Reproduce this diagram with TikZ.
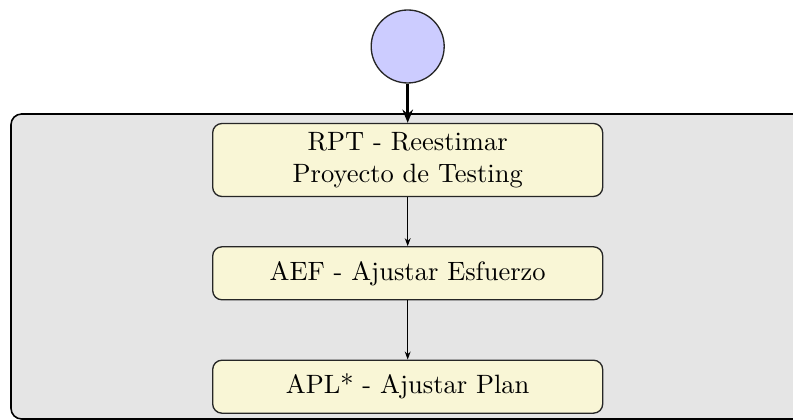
\documentclass[tikz,border=0pt]{standalone}
\usetikzlibrary{arrows.meta}
\definecolor{boxfill}{RGB}{249,246,214}
\definecolor{lanefill}{RGB}{229,229,229}
\definecolor{startfill}{RGB}{204,204,255}
\begin{document}
\begin{tikzpicture}[x=0.3774pt,y=-0.3774pt,
  stepbox/.style={draw=black!85, line width=0.5pt, fill=boxfill, rounded corners=3.5pt,
    minimum width=390*0.3774pt, align=center, font=\normalsize, inner sep=0pt},
  thinarrow/.style={-{Stealth[length=3pt,width=2.2pt]}, line width=0.4pt},
  thickarrow/.style={-{Stealth[length=5pt,width=4pt]}, line width=1.2pt}]
\useasboundingbox (0,0) rectangle (793,420);
\clip (0,0) rectangle (793,420);
\draw[fill=lanefill, line width=0.6pt, rounded corners=4pt] (11,114) rectangle (830,419);
\node[circle, draw=black!85, fill=startfill, line width=0.5pt, minimum size=73*0.3774pt, inner sep=0pt] (start) at (407.7,46.5) {};
\node[stepbox, minimum height=73*0.3774pt] (rpt) at (407.7,160) {RPT - Reestimar\\Proyecto de Testing};
\node[stepbox, minimum height=53*0.3774pt] (aef) at (407.7,273.3) {AEF - Ajustar Esfuerzo};
\node[stepbox, minimum height=53*0.3774pt] (apl) at (407.7,386.7) {APL* - Ajustar Plan};
\draw[thickarrow] (start) -- (rpt);
\draw[thinarrow] (rpt) -- (aef);
\draw[thinarrow] (aef) -- (apl);
\end{tikzpicture}
\end{document}
